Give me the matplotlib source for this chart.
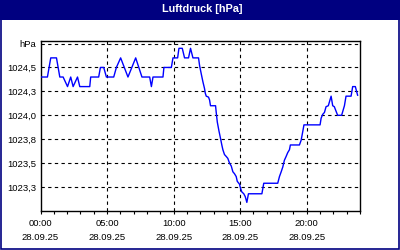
import matplotlib
matplotlib.use("Agg")
import matplotlib.pyplot as plt
from matplotlib.patches import Rectangle

# Luftdruck 28.09.25, Stunden seit 00:00 und Werte in hPa
hours = [0, 0.52, 0.77, 1.2, 1.45, 1.7, 2.03, 2.27, 2.45, 2.78,
         2.95, 3.7, 3.77, 4.37, 4.5, 4.75, 4.95, 5.5, 5.7, 6.02,
         6.57, 7.15, 7.62, 8.2, 8.33, 8.45, 9.2, 9.27, 9.83, 9.95,
         10.3, 10.4, 10.65, 10.82, 11.12, 11.27, 11.45, 11.87, 11.95, 12.08,
         12.2, 12.32, 12.38, 12.45, 12.62, 12.7, 12.77, 13.15, 13.2, 13.28,
         13.4, 13.52, 13.62, 13.7, 13.82, 13.95, 14.07, 14.2, 14.33, 14.45,
         14.57, 14.7, 14.78, 14.95, 15.02, 15.12, 15.27, 15.38, 15.5, 15.62,
         16.63, 16.77, 17.82, 17.95, 18.08, 18.2, 18.32, 18.45, 18.57, 18.7,
         18.77, 19.45, 19.58, 19.7, 19.79, 21.0, 21.08, 21.2, 21.33, 21.45,
         21.62, 21.83, 21.95, 22.07, 22.32, 22.62, 22.83, 22.95, 23.33, 23.45,
         23.65, 23.82]
pressure = [1024.4, 1024.4, 1024.6, 1024.6, 1024.4, 1024.4, 1024.3, 1024.4, 1024.3, 1024.4,
            1024.3, 1024.3, 1024.4, 1024.4, 1024.5, 1024.5, 1024.4, 1024.4, 1024.5, 1024.6,
            1024.4, 1024.6, 1024.4, 1024.4, 1024.3, 1024.4, 1024.4, 1024.5, 1024.5, 1024.6,
            1024.6, 1024.7, 1024.7, 1024.6, 1024.6, 1024.7, 1024.6, 1024.6, 1024.52, 1024.43,
            1024.35, 1024.28, 1024.23, 1024.2, 1024.19, 1024.16, 1024.1, 1024.1, 1024.03, 1023.93,
            1023.84, 1023.76, 1023.69, 1023.64, 1023.59, 1023.57, 1023.55, 1023.5, 1023.47, 1023.41,
            1023.39, 1023.36, 1023.31, 1023.28, 1023.24, 1023.2, 1023.18, 1023.15, 1023.09, 1023.18,
            1023.18, 1023.29, 1023.29, 1023.36, 1023.41, 1023.46, 1023.53, 1023.57, 1023.61, 1023.64,
            1023.69, 1023.69, 1023.74, 1023.83, 1023.9, 1023.9, 1023.97, 1024.01, 1024.03, 1024.09,
            1024.1, 1024.2, 1024.1, 1024.09, 1024.0, 1024.0, 1024.1, 1024.2, 1024.2, 1024.3,
            1024.3, 1024.21]

y_ticks = [1023.25, 1023.5, 1023.75, 1024.0, 1024.25, 1024.5, 1024.75]
y_labels = ["1023,3", "1023,5", "1023,8", "1024,0", "1024,3", "1024,5", "hPa"]
x_ticks = [0, 5, 10, 15, 20]
x_labels = ["00:00\n28.09.25", "05:00\n28.09.25", "10:00\n28.09.25",
            "15:00\n28.09.25", "20:00\n28.09.25"]

navy = "#000080"
plt.rcParams["font.family"] = ["Liberation Sans", "DejaVu Sans"]

fig = plt.figure(figsize=(4, 2.5), dpi=100)
fig.patch.set_facecolor("white")

# Titelbalken und Rahmen
fig.patches.append(Rectangle((0, 230.5 / 250), 1, 19.5 / 250, transform=fig.transFigure,
                             facecolor=navy, edgecolor="none", zorder=0))
fig.patches.append(Rectangle((0.002, 0.003), 0.996, 0.994, transform=fig.transFigure,
                             facecolor="none", edgecolor=navy, linewidth=1.2, zorder=1))
fig.text(0.505, 1 - 9.5 / 250, "Luftdruck [hPa]", color="white", fontsize=7.8,
         fontweight="bold", ha="center", va="center")

ax = fig.add_axes([40.5 / 400, 39 / 250, 319.5 / 400, 170 / 250])
ax.plot(hours, pressure, color="#0000ff", linewidth=1.0, zorder=3)

ax.set_xlim(0, 24)
ax.set_ylim(1023.0, 1023.0 + 170 / 95.7)

ax.set_xticks(x_ticks)
ax.set_xticklabels(x_labels, fontsize=6.8, linespacing=1.6)
ax.set_xticks(range(0, 25), minor=True)
ax.tick_params(axis="x", which="both", direction="out", length=2.5, width=0.8,
               pad=3.5, color="black")

ax.set_yticks(y_ticks)
ax.set_yticklabels(y_labels, fontsize=6.8)
ax.tick_params(axis="y", length=0, pad=3)

for y in y_ticks:
    ax.axhline(y, color="black", linewidth=0.8, linestyle=(0, (3, 3)), zorder=1)
for x in x_ticks[1:]:
    ax.axvline(x, color="black", linewidth=0.8, linestyle=(0, (3, 3)), zorder=1)

for s in ax.spines.values():
    s.set_color("black")
    s.set_linewidth(1.0)

fig.savefig("out.png", dpi=100)
